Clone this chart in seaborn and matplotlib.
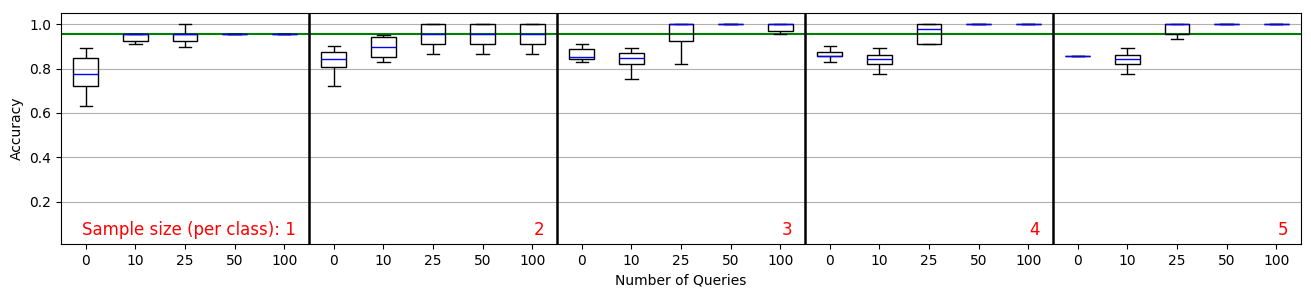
import matplotlib
matplotlib.use("Agg")
import matplotlib.pyplot as plt
import seaborn as sns
import pandas as pd

queries = ["0", "10", "25", "50", "100"]
sample_sizes = [1, 2, 3, 4, 5]
reference_acc = 0.955

# five-number summaries per box, grouped by sample size (5 query settings each)
whisker_low = [0.630, 0.909, 0.895, 0.955, 0.955,
               0.720, 0.828, 0.864, 0.864, 0.864,
               0.828, 0.751, 0.819, 1.000, 0.954,
               0.828, 0.774, 0.909, 1.000, 1.000,
               0.855, 0.774, 0.931, 1.000, 1.000]
q1 = [0.720, 0.922, 0.922, 0.955, 0.955,
      0.805, 0.850, 0.909, 0.909, 0.909,
      0.841, 0.819, 0.922, 1.000, 0.967,
      0.855, 0.819, 0.909, 1.000, 1.000,
      0.855, 0.819, 0.955, 1.000, 1.000]
median = [0.775, 0.955, 0.955, 0.955, 0.955,
          0.841, 0.897, 0.955, 0.955, 0.955,
          0.853, 0.846, 1.000, 1.000, 1.000,
          0.855, 0.841, 0.976, 1.000, 1.000,
          0.855, 0.841, 1.000, 1.000, 1.000]
q3 = [0.846, 0.955, 0.955, 0.955, 0.955,
      0.873, 0.940, 1.000, 1.000, 1.000,
      0.886, 0.868, 1.000, 1.000, 1.000,
      0.873, 0.859, 1.000, 1.000, 1.000,
      0.855, 0.859, 1.000, 1.000, 1.000]
whisker_high = [0.891, 0.955, 1.000, 0.955, 0.955,
                0.901, 0.951, 1.000, 1.000, 1.000,
                0.910, 0.891, 1.000, 1.000, 1.000,
                0.900, 0.891, 1.000, 1.000, 1.000,
                0.855, 0.891, 1.000, 1.000, 1.000]

rows = []
for i in range(len(median)):
    for v in (whisker_low[i], q1[i], median[i], q3[i], whisker_high[i]):
        rows.append({"pos": i, "acc": v})
df = pd.DataFrame(rows)

fig = plt.figure(figsize=(13.11, 2.97), dpi=100)
ax = fig.add_axes([61 / 1311, 1 - 244 / 297, (1301 - 61) / 1311, (244 - 13) / 297])

sns.boxplot(data=df, x="pos", y="acc", order=list(range(len(median))), ax=ax,
            whis=(0, 100), width=0.5, color="white", linecolor="black",
            linewidth=1.0, showfliers=False,
            boxprops=dict(facecolor="none", edgecolor="black", zorder=2),
            medianprops=dict(color="blue", linewidth=1.0, zorder=2.2),
            whiskerprops=dict(color="black"), capprops=dict(color="black"))

ax.set_axisbelow(True)
ax.yaxis.grid(True, color="#b0b0b0", linewidth=0.8)
ax.xaxis.grid(False)
ax.axhline(reference_acc, color="green", linewidth=1.5, zorder=1.8)

n_q = len(queries)
for k in range(1, len(sample_sizes)):
    ax.axvline(k * n_q - 0.5, color="black", linewidth=1.8, zorder=4)

for k, s in enumerate(sample_sizes):
    label = f"Sample size (per class): {s}" if k == 0 else str(s)
    ax.text((k + 1) * n_q - 0.76, 0.05, label, color="red", fontsize=12,
            ha="right", va="baseline")

ax.set_xlim(-0.5, len(median) - 0.5)
ax.set_ylim(0.01, 1.05)
ax.set_yticks([0.2, 0.4, 0.6, 0.8, 1.0])
ax.set_xticks(range(len(median)))
ax.set_xticklabels(queries * len(sample_sizes))
ax.set_xlabel("Number of Queries")
ax.set_ylabel("Accuracy")
for sp in ax.spines.values():
    sp.set_color("black")
    sp.set_visible(True)

fig.savefig("out.png", dpi=100)
